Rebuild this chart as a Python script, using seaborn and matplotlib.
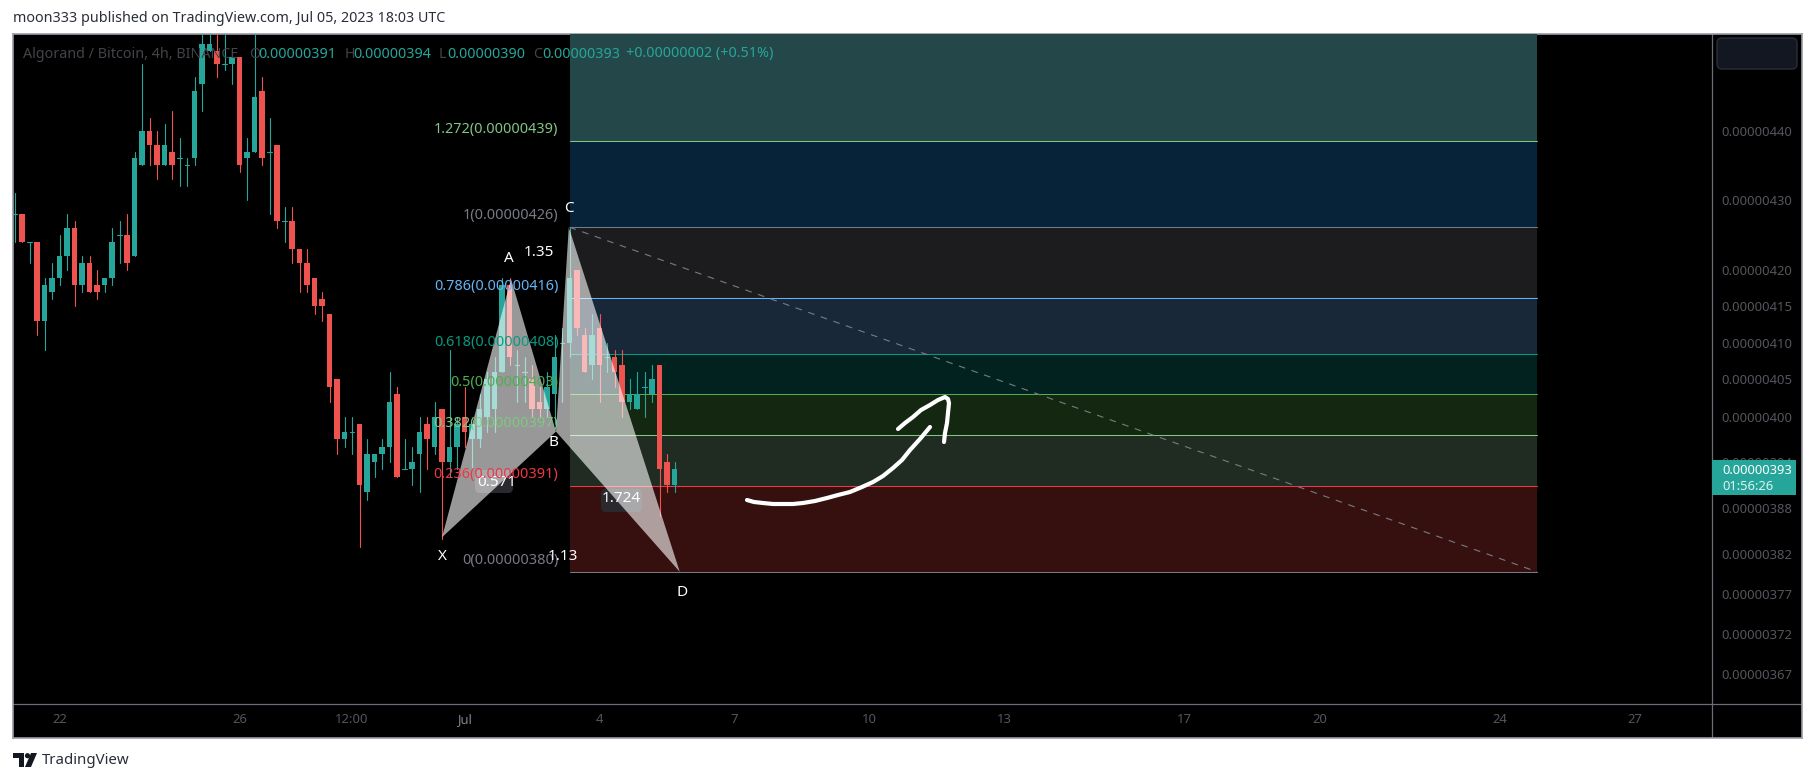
import pandas as pd
import matplotlib
matplotlib.use('Agg')
import matplotlib.pyplot as plt
from matplotlib.patches import FancyBboxPatch, Polygon, Circle, Rectangle
from matplotlib.ticker import NullLocator
import seaborn as sns

# prices are in units of 0.00000001 BTC, one row per 4h bar
bar_open = [428, 428, 424, 424, 413, 417, 419, 422, 426, 418, 421, 418, 418, 419, 425, 425, 422, 435, 440, 438,
            435, 437, 436, 435, 436, 447, 452, 452, 450, 450, 451, 436, 437, 446, 437, 438, 427, 427, 423, 421,
            419, 416, 414, 405, 397, 398, 399, 390, 394, 395, 396, 403, 393, 393, 395, 399, 396, 401, 394, 396,
            400, 397, 397, 400, 401, 406, 418, 407, 406, 405, 402, 401, 403, 410, 410, 420, 411, 407, 412, 408,
            408, 407, 402, 401, 404, 403, 407, 394, 391]
bar_high = [431, 428, 424, 424, 419, 421, 425, 428, 427, 422, 422, 420, 419, 426, 427, 428, 437, 450, 442, 440,
            441, 443, 439, 436, 448, 457, 457, 457, 457, 451, 451, 439, 457, 448, 442, 438, 429, 429, 423, 423,
            419, 417, 414, 405, 400, 400, 399, 397, 395, 397, 406, 404, 397, 396, 400, 400, 402, 401, 409, 400,
            404, 399, 403, 406, 408, 419, 419, 409, 408, 407, 404, 406, 411, 412, 426, 420, 412, 414, 414, 410,
            409, 409, 405, 406, 406, 407, 407, 395, 394]
bar_low = [424, 424, 421, 411, 409, 416, 418, 420, 415, 417, 417, 416, 417, 418, 421, 420, 422, 435, 435, 433,
           435, 433, 432, 432, 435, 443, 452, 448, 449, 447, 434, 430, 437, 435, 428, 426, 424, 421, 417, 417,
           414, 413, 402, 395, 396, 395, 383, 389, 392, 393, 394, 392, 393, 391, 390, 393, 395, 384, 392, 393,
           396, 393, 396, 398, 398, 406, 407, 402, 402, 400, 400, 400, 399, 402, 408, 411, 406, 405, 402, 406,
           404, 400, 401, 401, 400, 402, 387, 390, 390]
bar_close = [428, 424, 424, 413, 418, 419, 422, 426, 418, 421, 417, 417, 419, 424, 425, 421, 436, 440, 438, 435,
             438, 435, 436, 435, 446, 453, 453, 450, 450, 451, 435, 437, 445, 436, 437, 427, 427, 423, 421, 418,
             415, 415, 404, 397, 398, 398, 391, 395, 395, 396, 402, 392, 393, 394, 398, 397, 400, 394, 396, 399,
             398, 399, 401, 405, 406, 418, 408, 407, 406, 401, 401, 404, 408, 410, 419, 412, 406, 411, 407, 408,
             406, 402, 403, 403, 404, 405, 393, 391, 393]

fib_levels = [456.0, 438.6, 426.1, 416.2, 408.4, 403.0, 397.5, 390.8, 379.8]
fib_fills = ['#24474a', '#06233a', '#1c1c1e', '#182839', '#01221f', '#142711', '#202b21', '#36100e']
fib_line_colors = ['#81c784', '#787b86', '#64b5f6', '#089981', '#4caf50', '#81c784', '#f23645', '#787b86']
fib_labels = ['1.272(0.00000439)', '1(0.00000426)', '0.786(0.00000416)', '0.618(0.00000408)',
              '0.5(0.00000403)', '0.382(0.00000397)', '0.236(0.00000391)', '0(0.00000380)']
fib_start = 74
fib_end = 203

pattern_bar = [57.0, 66.2, 72.2, 73.9, 88.7]  # X A B C D
pattern_price = [384.2, 418.8, 398.0, 426.1, 379.8]

price_ticks = [440, 430, 420, 415, 410, 405, 400, 394, 388, 382, 377, 372, 367]
price_labels = ['0.00000' + str(p) for p in price_ticks]
time_ticks = [6, 30, 45, 60, 78, 96, 114, 132, 156, 174, 198, 216]
time_labels = ['22', '26', '12:00', 'Jul', '4', '7', '10', '13', '17', '20', '24', '27']

arrow_shaft_x = [747, 754, 763, 773, 783, 793, 803, 815, 827, 838, 850, 862, 873, 883, 893, 902, 910, 920, 930]
arrow_shaft_y = [500, 502, 503, 504, 504, 504, 503, 501, 498, 495, 492, 487, 482, 476, 468, 460, 450, 439, 427]
arrow_head_x = [898, 905, 913, 921, 930, 938, 945, 948, 949, 948, 947, 945, 944]
arrow_head_y = [429, 423, 417, 410, 405, 400, 397, 399, 403, 413, 423, 433, 442]

TEAL = '#26a69a'
RED = '#ef5350'
W, H = 1815, 783

sns.set_theme(style='white')
plt.rcParams['font.family'] = ['Noto Sans', 'DejaVu Sans']

fig = plt.figure(figsize=(W / 100, H / 100), dpi=100, facecolor='white')


def box(x0, y0, x1, y1):
    return [x0 / W, 1 - y1 / H, (x1 - x0) / W, (y1 - y0) / H]


# black pane with the separators of the price and time scales
bg = fig.add_axes(box(13, 34, 1802, 738), zorder=0)
bg.set_facecolor('black')
bg.set_xlim(13, 1802)
bg.set_ylim(738, 34)
bg.set_xticks([])
bg.set_yticks([])
for spine in bg.spines.values():
    spine.set_color('#9a9ca6')
    spine.set_linewidth(1.2)
bg.axvline(1712, color='#6a6d78', lw=0.9)
bg.axhline(704, color='#6a6d78', lw=0.9)

ax = fig.add_axes(box(14, 34, 1712, 704), zorder=1)
ax.patch.set_alpha(0)
ax.set_yscale('log')
ax.set_xlim(-0.067, 226.33)
ax.set_ylim(363.4, 454.5)
for spine in ax.spines.values():
    spine.set_visible(False)

# overlay in pixels for the chrome of the screenshot
ov = fig.add_axes([0, 0, 1, 1], zorder=2)
ov.patch.set_alpha(0)
ov.set_xlim(0, W)
ov.set_ylim(H, 0)
ov.axis('off')

# fib zones
for i, color in enumerate(fib_fills):
    ax.fill_between([fib_start, fib_end], fib_levels[i + 1], fib_levels[i], color=color, lw=0, zorder=1)
for level, color, label in zip(fib_levels[1:], fib_line_colors, fib_labels):
    ax.plot([fib_start, fib_end], [level, level], color=color, lw=0.75, zorder=1.5)
    ax.annotate(label, (fib_start, level), xytext=(-8, 8.3), textcoords='offset points', ha='right', va='center',
                color=color, fontsize=10.4, zorder=8)
ax.plot([fib_start, fib_end], [fib_levels[2], fib_levels[-1]], color='#787b86', lw=0.8, ls=(0, (6, 6)), zorder=1.6)

# candles
bars = pd.DataFrame({'bar': range(len(bar_open)), 'open': bar_open, 'high': bar_high,
                     'low': bar_low, 'close': bar_close})
bars['dir'] = ['down' if c < o else 'up' for o, c in zip(bars.open, bars.close)]
palette = {'up': TEAL, 'down': RED}
wicks = bars.melt(id_vars=['bar', 'dir'], value_vars=['high', 'low'], value_name='price')
sns.lineplot(data=wicks, x='bar', y='price', units='bar', estimator=None, hue='dir', palette=palette,
             legend=False, sort=False, lw=0.8, ax=ax, zorder=2)
for row in bars.itertuples():
    lo, hi = min(row.open, row.close), max(row.open, row.close)
    if lo == hi:
        ax.plot([row.bar - 0.33, row.bar + 0.33], [lo, lo], color=palette[row.dir], lw=0.8, zorder=3)
    else:
        ax.bar(row.bar, hi - lo, bottom=lo, width=0.67, color=palette[row.dir], lw=0, zorder=3)

# value boxes go under the harmonic pattern
for x0, y0, x1, y1 in [(475, 470, 513, 493), (601, 489, 642, 512)]:
    ax.add_patch(FancyBboxPatch((x0, y0), x1 - x0, y1 - y0, boxstyle='round,pad=0,rounding_size=5', fc='#2a2a2e',
                                ec='none', transform=ov.transData, clip_on=False, zorder=4))
ax.text(497, 482, '0.571', transform=ov.transData, color='white', fontsize=11, ha='center', va='center', zorder=4.5)
ax.text(621, 499, '1.724', transform=ov.transData, color='white', fontsize=11, ha='center', va='center', zorder=4.5)

# harmonic pattern
ax.fill(pattern_bar[:3], pattern_price[:3], color='white', alpha=0.6, lw=0, zorder=5)
ax.fill(pattern_bar[2:], pattern_price[2:], color='white', alpha=0.6, lw=0, zorder=5)

ax.set_yticks(price_ticks)
ax.set_yticklabels(price_labels)
ax.yaxis.set_minor_locator(NullLocator())
ax.yaxis.tick_right()
ax.tick_params(axis='y', which='both', length=0, pad=6.5, labelsize=9.4, labelcolor='#55565c')
ax.set_xticks(time_ticks)
ax.set_xticklabels(time_labels)
ax.tick_params(axis='x', length=0, pad=6.5, labelsize=9.4, labelcolor='#55565c')
for tick in ax.get_xticklabels():
    if tick.get_text() == 'Jul':
        tick.set_color('#808289')
ax.set_xlabel('')
ax.set_ylabel('')

# pattern letters and ratios
for x, y, s in [(442, 557, 'X'), (509, 258, 'A'), (554, 442, 'B'), (569, 209, 'C'), (682, 593, 'D'),
                (539, 252, '1.35'), (563, 556, '1.13')]:
    ov.text(x, y, s, color='white', fontsize=11, ha='center', va='center')

# hand drawn arrow
ov.plot(arrow_shaft_x, arrow_shaft_y, color='white', lw=3, solid_capstyle='round', solid_joinstyle='round')
ov.plot(arrow_head_x, arrow_head_y, color='white', lw=3, solid_capstyle='round', solid_joinstyle='round')

# legend line
legend_parts = [(23, 'Algorand / Bitcoin, 4h, BINANCE', '#43444a'), (249, 'O', '#43444a'), (258, '0.00000391', TEAL),
                (345, 'H', '#43444a'), (353, '0.00000394', TEAL), (439, 'L', '#43444a'), (447, '0.00000390', TEAL),
                (533, 'C', '#43444a'), (542, '0.00000393', TEAL), (626, '+0.00000002 (+0.51%)', TEAL)]
for x, s, color in legend_parts:
    ov.text(x, 54, s, color=color, fontsize=10.3, ha='left', va='center')

# last price tag and the empty button
ov.add_patch(Rectangle((1712, 460), 84, 35, fc=TEAL, ec='none'))
ov.text(1722, 470, '0.00000393', color='white', fontsize=9.3, fontweight='bold', ha='left', va='center')
ov.text(1722, 486, '01:56:26', color='#dff3f0', fontsize=9.3, ha='left', va='center')
ov.add_patch(FancyBboxPatch((1717, 38), 80, 31, boxstyle='round,pad=0,rounding_size=5', fc='#131722',
                            ec='#2a2e39', lw=1))

# page text and logo
ov.text(13, 19, 'moon333 published on TradingView.com, Jul 05, 2023 18:03 UTC', color='#2a2e39', fontsize=10.3,
        ha='left', va='center')
ov.add_patch(Polygon([(13, 753), (24, 753), (24, 767), (19, 767), (19, 758), (13, 758)], fc='#131722', ec='none'))
ov.add_patch(Circle((27.5, 755.7), 2.6, fc='#131722', ec='none'))
ov.add_patch(Polygon([(31, 753), (37, 753), (31, 767), (25, 767)], fc='#131722', ec='none'))
ov.text(42, 760, 'TradingView', color='#2a2e39', fontsize=10.8, ha='left', va='center')

fig.savefig('out.png', dpi=100, facecolor='white')
